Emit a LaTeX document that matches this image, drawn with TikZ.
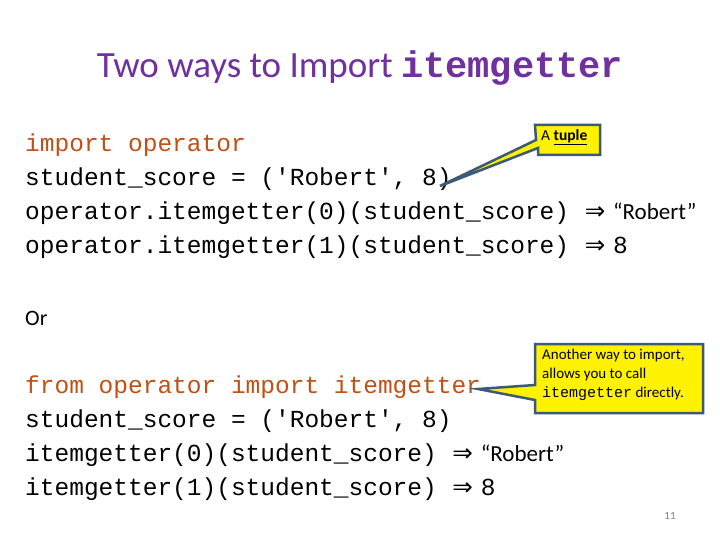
\documentclass[tikz,border=0pt]{standalone}
\usepackage{fontspec}
\setmainfont{Carlito}
\setmonofont{Liberation Mono}
\newfontfamily\dejavu{DejaVu Sans}
\definecolor{ttl}{RGB}{112,48,160}
\definecolor{kw}{RGB}{192,80,20}
\definecolor{cbord}{RGB}{60,90,120}
\begin{document}
\begin{tikzpicture}[x=1pt,y=-1pt,
  code/.style={anchor=base west,inner sep=0pt,font=\fontsize{24.5}{26}\selectfont\ttfamily},
  callout/.style={fill=yellow,draw=cbord,line width=2.5pt,line join=miter},
  ctext/.style={anchor=north west,inner sep=0pt,align=left}]
\useasboundingbox (0,0) rectangle (720,540);
\fill[white] (0,0) rectangle (720,540);
\node[anchor=base,inner sep=0pt,text=ttl,font=\fontsize{37}{40}\selectfont] (title) at (360,78) {Two ways to Import {\ttfamily\bfseries itemgetter}};
\newcommand{\imp}{{\normalfont\dejavu\ \ ⇒\ }}
\newcommand{\rob}{{\normalfont\fontsize{23}{26}\selectfont “Robert”}}
\node[code,text=kw] (l1) at (25,152) {import operator};
\node[code] (l2) at (25,186) {student\_score = ('Robert', 8)};
\node[code] (l3) at (25,220) {operator.itemgetter(0)(student\_score)\imp\rob};
\node[code] (l4) at (25,254) {operator.itemgetter(1)(student\_score)\imp8};
\node[anchor=base west,inner sep=0pt,font=\fontsize{22}{26}\selectfont] (or) at (25,325) {Or};
\node[code,text=kw] (m1) at (25,393) {from operator import itemgetter};
\node[code] (m2) at (25,427) {student\_score = ('Robert', 8)};
\node[code] (m3) at (25,461) {itemgetter(0)(student\_score)\imp\rob};
\node[code] (m4) at (25,495) {itemgetter(1)(student\_score)\imp8};
% callout 1
\path[callout] (535,125) -- (600,125) -- (600,155) -- (538,155) -- (538,148) -- (440,186) -- (536,140) -- cycle;
\node[ctext,font=\fontsize{15.5}{18}\selectfont] (c1) at (541,129) {A \textbf{\underline{tuple}}};
% callout 2
\path[callout] (535,344) -- (703,344) -- (703,413) -- (535,413) -- (535,400) -- (478,389) -- (535,385) -- cycle;
\node[ctext,font=\fontsize{15}{19}\selectfont] (c2) at (542,349) {Another way to import,\\allows you to call\\{\ttfamily itemgetter} directly.};
\node[anchor=base,inner sep=0pt,text=gray,font=\fontsize{11}{12}\selectfont] (pg) at (670,519) {11};
\end{tikzpicture}
\end{document}
